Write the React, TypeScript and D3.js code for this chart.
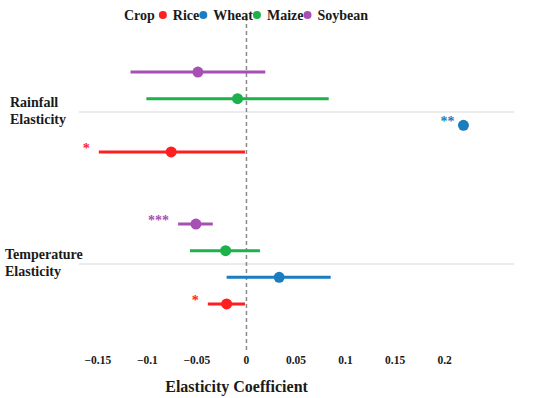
import React, { useEffect, useRef } from 'react';
import * as d3 from 'd3';

// crops, drawn bottom-to-top inside each group
const crops = ['Rice', 'Wheat', 'Maize', 'Soybean'];
const cropColors = ['#ff1f1f', '#1a7dc0', '#1db14b', '#a84fb5'];
const groups = ['Rainfall Elasticity', 'Temperature Elasticity'];
const groupLines = [['Rainfall', 'Elasticity'], ['Temperature', 'Elasticity']];

// estimates and confidence bounds, one value per crop
const rainfallEst = [-0.076, 0.219, -0.009, -0.049];
const rainfallLow = [-0.149, 0.219, -0.101, -0.117];
const rainfallHigh = [-0.0015, 0.219, 0.083, 0.019];
const rainfallSig = ['*', '**', '', ''];

const tempEst = [-0.02, 0.033, -0.021, -0.051];
const tempLow = [-0.039, -0.02, -0.057, -0.069];
const tempHigh = [-0.0015, 0.085, 0.0136, -0.034];
const tempSig = ['*', '', '', '***'];

const xTicks = [-0.15, -0.1, -0.05, 0, 0.05, 0.1, 0.15, 0.2];

const FONT = "'Liberation Serif'";

/* ForestChart: dot-and-whisker chart of elasticity coefficients by crop */
function ForestChart({ width, height }) {
  const ref = useRef(null);
  useEffect(() => {
    const svg = d3.select(ref.current);
    svg.selectAll('*').remove();
    svg.attr('width', width).attr('height', height);

    const panel = { left: 79, right: 514, top: 17, bottom: 352 };
    const x = d3.scaleLinear().domain([-0.169, 0.27]).range([panel.left, panel.right]);
    const y = d3.scalePoint().domain(groups).range([112, 264]);
    const dodge = 26.6;

    const label = (sel, size) => sel
      .style('font-family', FONT).style('font-weight', 'bold').style('font-size', `${size}px`);

    const rows = [];
    groups.forEach((g, gi) => {
      const est = gi === 0 ? rainfallEst : tempEst;
      const lo = gi === 0 ? rainfallLow : tempLow;
      const hi = gi === 0 ? rainfallHigh : tempHigh;
      const sig = gi === 0 ? rainfallSig : tempSig;
      crops.forEach((c, ci) => {
        rows.push({ group: g, crop: c, ci, est: est[ci], lo: lo[ci], hi: hi[ci], sig: sig[ci], y: y(g) + (1.5 - ci) * dodge });
      });
    });

    // group gridlines
    svg.append('g').selectAll('line').data(groups).enter().append('line')
      .attr('x1', panel.left).attr('x2', panel.right)
      .attr('y1', d => y(d)).attr('y2', d => y(d))
      .attr('stroke', '#e6e6e6').attr('stroke-width', 1.5);

    // zero line
    svg.append('line')
      .attr('x1', x(0)).attr('x2', x(0))
      .attr('y1', panel.top).attr('y2', panel.bottom)
      .attr('stroke', '#8a8a8a').attr('stroke-width', 1.5)
      .attr('stroke-dasharray', '4,3');

    // error bars
    svg.append('g').selectAll('line').data(rows).enter().append('line')
      .attr('x1', d => x(d.lo)).attr('x2', d => x(d.hi))
      .attr('y1', d => d.y).attr('y2', d => d.y)
      .attr('stroke', d => cropColors[d.ci]).attr('stroke-width', 3);

    // points
    svg.append('g').selectAll('circle').data(rows).enter().append('circle')
      .attr('cx', d => x(d.est)).attr('cy', d => d.y).attr('r', 5.5)
      .attr('fill', d => cropColors[d.ci]);

    // significance stars
    label(svg.append('g').selectAll('text').data(rows.filter(d => d.sig)).enter().append('text'), 14)
      .attr('x', d => x(d.lo) - 9).attr('y', d => d.y + 1)
      .attr('text-anchor', 'end')
      .attr('fill', d => cropColors[d.ci])
      .text(d => d.sig);

    // x axis tick labels
    label(svg.append('g').selectAll('text').data(xTicks).enter().append('text'), 11.5)
      .attr('x', d => x(d)).attr('y', 364)
      .attr('text-anchor', 'middle')
      .attr('fill', '#1a1a1a')
      .text(d => d === 0 ? '0' : d3.format('')(d).replace('-', '\u2212'));

    label(svg.append('text'), 16)
      .attr('x', x(-0.01)).attr('y', 392)
      .attr('text-anchor', 'middle')
      .attr('fill', '#1a1a1a')
      .text('Elasticity Coefficient');

    // y category labels
    groups.forEach((g, gi) => {
      const t = label(svg.append('text'), 14).attr('fill', '#1a1a1a');
      const lx = gi === 0 ? 10 : 5;
      t.append('tspan').attr('x', lx).attr('y', y(g) - 5).text(groupLines[gi][0]);
      t.append('tspan').attr('x', lx).attr('y', y(g) + 12).text(groupLines[gi][1]);
    });

    // legend, laid out left to right
    const leg = svg.append('g');
    let cx = 124;
    const title = label(leg.append('text'), 14).attr('x', cx).attr('y', 20)
      .attr('fill', '#1a1a1a').text('Crop');
    cx += title.node().getComputedTextLength() + 4;
    crops.forEach((c, ci) => {
      leg.append('circle').attr('cx', cx + 4).attr('cy', 15).attr('r', 4).attr('fill', cropColors[ci]);
      const lab = label(leg.append('text'), 14).attr('x', cx + 14).attr('y', 20)
        .attr('fill', '#1a1a1a').text(c);
      cx += 14 + lab.node().getComputedTextLength();
    });
  }, [width, height]);

  return <svg ref={ref} style={{ display: 'block' }} />;
}

export default function App() {
  return (
    <div style={{ position: 'absolute', left: 0, top: 0, background: '#fff' }}>
      <ForestChart width={550} height={398} />
    </div>
  );
}
